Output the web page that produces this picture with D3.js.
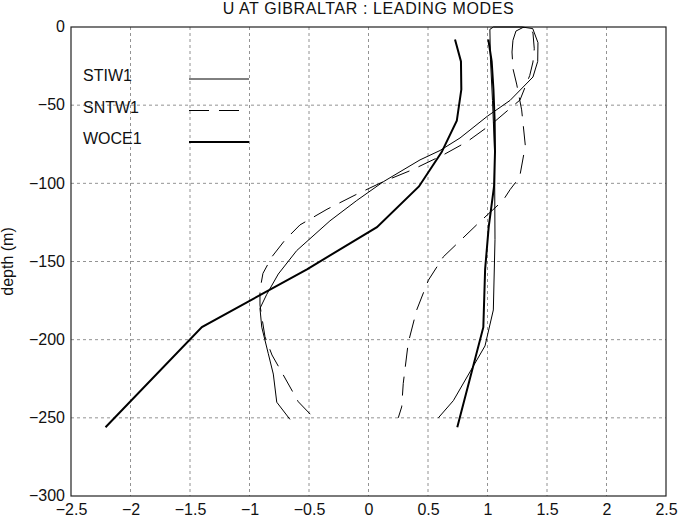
<!DOCTYPE html>
<html>
<head>
<meta charset="utf-8">
<script src="https://cdn.jsdelivr.net/npm/d3@7"></script>
<style>
  body { margin: 0; background: #fff; }
  text { font-family: "Liberation Sans", Arial, sans-serif; fill: #111; }
</style>
</head>
<body>
<svg width="678" height="518"></svg>
<script>
// tick labels
const xTicks = [-2.5, -2, -1.5, -1, -0.5, 0, 0.5, 1, 1.5, 2, 2.5];
const yTicks = [0, -50, -100, -150, -200, -250, -300];

// WOCE1 (thick) - two profiles on the same depths
const depthWoce = [-8, -22, -40, -60, -80, -102, -128, -155, -192, -256];
const woceA = [0.727, 0.777, 0.78, 0.742, 0.615, 0.424, 0.071, -0.517, -1.40, -2.21];
const woceB = [1.007, 1.035, 1.05, 1.06, 1.063, 1.055, 1.01, 0.98, 0.965, 0.746];

// STIW1 (thin solid)
const depthStiwA = [-1.5, 0, 0, -1, -10, -22, -32, -47, -57, -71, -79, -85, -99, -111, -124, -143, -158, -171, -180, -192, -209, -222, -240, -251];
const stiwA = [1.02, 1.05, 1.29, 1.38, 1.424, 1.422, 1.382, 1.189, 1.0, 0.769, 0.601, 0.433, 0.124, -0.099, -0.324, -0.603, -0.758, -0.855, -0.912, -0.897, -0.842, -0.80, -0.771, -0.66];
const depthStiwB = [-1.5, -21, -47, -79, -136, -181, -204, -239, -250];
const stiwB = [1.02, 1.025, 1.042, 1.059, 1.063, 1.049, 0.979, 0.713, 0.587];

// SNTW1 (dashed)
const depthSntwA = [-8.5, -2.6, -0.3, -0.6, -3.8, -13.9, -22.4, -31, -46.7, -61.4, -73.4, -81.9, -91.5, -99, -107.5, -116.6, -126.6, -136.3, -146.9, -157.6, -168.2, -177.8, -185.3, -198.1, -209.8, -222.6, -239.7, -249.3];
const sntwA = [1.214, 1.239, 1.298, 1.357, 1.382, 1.393, 1.382, 1.355, 1.273, 1.046, 0.828, 0.626, 0.363, 0.122, -0.113, -0.349, -0.576, -0.702, -0.811, -0.887, -0.912, -0.912, -0.897, -0.870, -0.811, -0.716, -0.590, -0.469];
const depthSntwB = [-8.5, -16, -26.7, -36.5, -53, -76, -96, -104, -111, -124.5, -147, -162, -181, -202, -228, -243, -250];
const sntwB = [1.214, 1.206, 1.214, 1.245, 1.287, 1.318, 1.27, 1.19, 1.13, 0.937, 0.629, 0.503, 0.405, 0.334, 0.292, 0.279, 0.250];

const seriesNames = ["STIW1", "SNTW1", "WOCE1"];

const margin = { top: 27, right: 12, bottom: 22, left: 71 };
const svg = d3.select("svg");
const width = +svg.attr("width") - margin.left - margin.right;
const height = +svg.attr("height") - margin.top - margin.bottom;

const g = svg.append("g").attr("transform", `translate(${margin.left},${margin.top})`);

const x = d3.scaleLinear().domain([-2.5, 2.5]).range([0, width]);
const y = d3.scaleLinear().domain([-300, 0]).range([height, 0]);

const fmt = d => String(d).replace("-", "\u2212");

// grid
g.append("g").selectAll("line").data(xTicks.slice(1, -1)).enter().append("line")
  .attr("x1", d => x(d)).attr("x2", d => x(d)).attr("y1", 0).attr("y2", height)
  .attr("stroke", "#777").attr("stroke-width", 0.8).attr("stroke-dasharray", "3,3");
g.append("g").selectAll("line").data(yTicks.slice(1, -1)).enter().append("line")
  .attr("y1", d => y(d)).attr("y2", d => y(d)).attr("x1", 0).attr("x2", width)
  .attr("stroke", "#777").attr("stroke-width", 0.8).attr("stroke-dasharray", "3,3");

// axes
const xAxis = g.append("g").attr("transform", `translate(0,${height})`)
  .call(d3.axisBottom(x).tickValues(xTicks).tickFormat(fmt).tickSize(0).tickPadding(8));
const yAxis = g.append("g")
  .call(d3.axisLeft(y).tickValues(yTicks).tickFormat(fmt).tickSize(0).tickPadding(6));
[xAxis, yAxis].forEach(a => {
  a.select(".domain").remove();
  a.selectAll("text").style("font-size", "16px").style("font-family", "Liberation Sans, Arial, sans-serif").attr("fill", "#111");
});
yAxis.selectAll("text").attr("dy", "0.3em");

g.append("rect").attr("width", width).attr("height", height)
  .attr("fill", "none").attr("stroke", "#222").attr("stroke-width", 1.2);

// curves
const line = d3.line().x(d => x(d[0])).y(d => y(d[1]));
const zip = (xs, ys) => xs.map((v, i) => [v, ys[i]]);

const curves = [
  { pts: zip(stiwA, depthStiwA), w: 1, dash: null },
  { pts: zip(stiwB, depthStiwB), w: 1, dash: null },
  { pts: zip(sntwA, depthSntwA), w: 1, dash: "19,10" },
  { pts: zip(sntwB, depthSntwB), w: 1, dash: "19,10" },
  { pts: zip(woceA, depthWoce), w: 2, dash: null },
  { pts: zip(woceB, depthWoce), w: 2, dash: null }
];

g.selectAll(".curve").data(curves).enter().append("path")
  .attr("class", "curve")
  .attr("d", d => line(d.pts))
  .attr("fill", "none").attr("stroke", "#000")
  .attr("stroke-width", d => d.w)
  .attr("stroke-dasharray", d => d.dash);

// legend
const legStyle = [{ w: 1, dash: null }, { w: 1, dash: "20,10" }, { w: 2, dash: null }];
const leg = svg.append("g");
seriesNames.forEach((name, i) => {
  const yy = 79 + i * 31.5;
  leg.append("text").attr("x", 83).attr("y", yy + 2).text(name).style("font-size", "16px");
  leg.append("line").attr("x1", 189).attr("x2", 249).attr("y1", yy).attr("y2", yy)
    .attr("stroke", "#000").attr("stroke-width", legStyle[i].w)
    .attr("stroke-dasharray", legStyle[i].dash);
});

// title and label
svg.append("text").attr("x", margin.left + width / 2).attr("y", 14)
  .attr("text-anchor", "middle").style("font-size", "16px").style("letter-spacing", "0.6px")
  .text("U AT GIBRALTAR : LEADING MODES");
svg.append("text")
  .attr("transform", `translate(13,${margin.top + height / 2}) rotate(-90)`)
  .attr("text-anchor", "middle").style("font-size", "16px")
  .text("depth (m)");
</script>
</body>
</html>
